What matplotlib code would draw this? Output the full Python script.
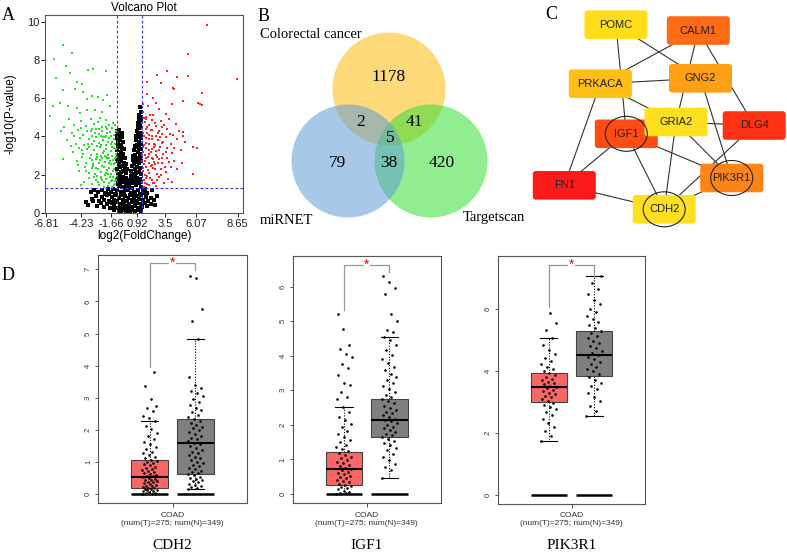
import matplotlib.pyplot as plt
from matplotlib.patches import Circle, Ellipse, FancyBboxPatch
import numpy as np

plt.rcParams['font.family'] = ['Liberation Sans', 'DejaVu Sans']
SERIF = ['Liberation Serif', 'DejaVu Serif']

# ---------------- data ----------------
# panel A: volcano points, pairs of (log2 fold change, -log10 p)
green_xy = np.array("""
-5.32 8.80 -4.60 8.36 -6.02 8.05 -5.06 7.66 -4.74 7.31 -3.27 7.49 -2.87 7.52 -1.86 7.43
-5.86 7.05 -4.20 6.87 -3.80 6.75 -4.34 6.48 -5.27 6.44 -3.67 6.30 -3.40 5.95 -3.00 6.09
-2.47 6.06 -2.07 5.92 -1.80 6.18 -6.12 5.57 -5.54 5.74 -4.87 5.57 -4.20 5.48 -3.94 5.22
-3.40 5.36 -2.74 5.39 -2.20 5.30 -1.54 5.57 -6.34 5.05
-4.40 4.60 -3.90 4.80 -3.50 4.55 -3.10 4.90 -2.80 4.65 -2.50 4.75 -2.20 4.50 -1.90 4.85
-1.60 4.60 -1.30 4.70 -4.80 4.90 -5.20 4.50 -2.95 4.40 -2.35 4.95 -1.75 4.40
-4.60 4.20 -4.10 4.35 -3.70 4.10 -3.35 4.30 -3.00 4.05 -2.70 4.40 -2.45 4.15 -2.15 4.30
-1.85 4.05 -1.55 4.25 -1.25 4.10 -5.50 4.30 -3.85 4.45 -2.30 4.00 -1.40 4.45
-5.00 3.80 -4.30 3.60 -3.95 3.90 -3.60 3.55 -3.25 3.85 -2.95 3.60 -2.65 3.95 -2.40 3.65
-2.10 3.80 -1.85 3.55 -1.60 3.90 -1.35 3.70 -1.15 3.60 -4.70 3.50 -2.80 3.75 -1.95 3.95
-4.50 3.20 -4.00 3.40 -3.70 3.10 -3.40 3.35 -3.10 3.05 -2.85 3.30 -2.60 3.10 -2.35 3.45
-2.10 3.15 -1.90 3.35 -1.70 3.05 -1.45 3.25 -1.20 3.40 -1.05 3.10 -3.20 3.45 -2.25 3.00
-4.20 2.70 -3.80 2.95 -3.45 2.60 -3.15 2.85 -2.90 2.55 -2.65 2.80 -2.40 2.60 -2.20 2.90
-1.95 2.65 -1.75 2.85 -1.50 2.55 -1.30 2.75 -1.10 2.95 -5.30 2.80 -2.55 2.95 -1.62 2.90
-4.00 2.20 -3.55 2.40 -3.25 2.10 -3.00 2.35 -2.75 2.05 -2.50 2.30 -2.30 2.15 -2.05 2.40
-1.85 2.10 -1.65 2.35 -1.45 2.05 -1.25 2.30 -1.08 2.15 -2.90 2.45 -1.95 2.00
-3.60 1.60 -3.20 1.85 -2.95 1.50 -2.70 1.75 -2.45 1.45 -2.25 1.90 -2.05 1.60 -1.85 1.80
-1.70 1.40 -1.50 1.65 -1.30 1.90 -1.15 1.50 -1.05 1.75 -2.60 1.95 -3.90 1.45 -1.40 1.35
-2.75 4.20 -2.55 3.50 -2.35 2.75 -2.15 1.70 -2.00 3.25 -1.90 4.50 -1.80 2.25 -1.70 3.70
-1.60 1.55 -1.55 2.70 -1.45 4.00 -1.35 3.00 -1.30 2.20 -1.20 3.85 -1.18 1.65 -1.12 2.60
-1.10 4.30 -1.05 3.35 -1.02 1.95 -2.65 2.35 -2.50 1.60 -2.40 4.40 -2.25 3.55 -2.20 2.45
-2.00 1.35 -1.95 3.00 -1.75 4.20 -1.65 2.60 -1.55 1.90 -1.40 3.45 -1.25 2.55 -1.20 1.45
-1.12 4.60 -3.00 2.75 -3.30 3.60 -3.50 2.20 -3.75 3.30 -4.10 2.50 -4.40 4.00 -2.85 1.90
-3.10 4.30 -1.15 2.85 -1.35 1.75 -1.50 3.60 -1.70 2.05 -1.90 2.95 -2.10 3.95 -2.30 1.85
""".split(), float).reshape(-1, 2)

red_xy = np.array("""
6.20 9.84 4.68 8.31 8.60 7.00 5.80 6.27 5.80 5.65 3.80 7.10 3.00 7.43 2.25 7.22
4.73 7.17 1.45 6.87 2.54 6.82 3.58 6.49 5.66 5.69 4.28 5.88 5.40 3.39 5.13 2.03
4.46 3.73 4.20 2.60 5.53 5.74 4.28 4.26 5.08 3.47 3.53 6.53
1.10 5.30 1.50 5.60 1.90 5.10 2.40 5.45 2.90 5.20 3.40 5.70 1.30 5.00 2.10 5.75
1.05 4.70 1.30 4.90 1.60 4.60 1.85 4.85 2.15 4.55 2.50 4.80 2.80 4.60 3.20 4.90
3.70 4.65 1.45 4.50
1.10 4.20 1.35 4.40 1.60 4.10 1.85 4.35 2.10 4.05 2.35 4.30 2.65 4.15 3.00 4.40
3.50 4.10 4.00 4.30 1.20 4.05
1.05 3.70 1.30 3.90 1.55 3.60 1.80 3.85 2.05 3.55 2.30 3.80 2.60 3.65 2.90 3.95
3.30 3.60 3.80 3.85 1.15 3.55 2.45 3.95
1.10 3.20 1.35 3.40 1.60 3.10 1.85 3.35 2.10 3.05 2.40 3.30 2.70 3.10 3.05 3.40
3.45 3.15 4.10 3.30 1.25 3.05 1.95 3.45
1.05 2.70 1.30 2.90 1.55 2.60 1.80 2.85 2.05 2.55 2.35 2.80 2.65 2.60 3.00 2.90
3.60 2.70 1.20 2.55 2.20 2.95
1.10 2.20 1.35 2.40 1.60 2.10 1.90 2.35 2.20 2.05 2.55 2.30 2.90 2.15 3.30 2.40
1.25 2.00 1.75 2.45
1.05 1.60 1.30 1.85 1.55 1.45 1.80 1.70 2.10 1.40 2.40 1.90 2.75 1.55 3.10 1.80
1.20 1.35 1.45 1.95 1.95 1.55
1.02 4.40 1.08 2.35 1.12 3.45 1.15 1.75 1.22 4.75 1.28 2.70 1.33 3.65 1.38 1.50
1.42 4.20 1.48 2.95 1.52 2.25 1.58 3.85 1.62 1.85 1.68 5.10 1.72 3.20 1.78 2.50
1.83 4.00 1.88 1.55 1.93 2.80 1.98 3.60 2.03 4.70 2.08 2.30 2.15 3.25 2.22 1.70
2.28 4.20 2.33 2.60 2.42 3.45 2.50 2.00 2.58 4.50 2.62 2.85 2.72 3.70 2.85 2.40
2.95 3.20 3.15 2.65 3.25 4.15 3.40 1.60 3.55 3.40 3.85 2.30 4.30 4.00 1.10 5.70
1.40 6.20 1.90 6.00 1.03 3.05 1.18 4.95 1.25 1.55 1.55 3.30 1.70 4.35 2.00 2.65
""".split(), float).reshape(-1, 2)

black_xy = np.array("""
-0.98 4.30 -0.90 4.15 -0.80 4.35 -0.70 4.05 -0.95 4.00 -0.62 4.20
-0.97 3.90 -0.88 3.60 -0.78 3.80 -0.68 3.55 -0.58 3.95 -0.50 3.70 -0.93 3.70 -0.72 3.85
-0.98 3.30 -0.88 3.05 -0.80 3.45 -0.70 3.20 -0.60 3.40 -0.50 3.10 -0.42 3.35 -0.92 3.50
-0.65 3.00 -0.97 2.80 -0.86 2.55 -0.77 2.95 -0.66 2.70 -0.56 2.90 -0.46 2.60 -0.36 2.85
-0.30 2.55 -0.90 2.70 -0.98 2.30 -0.88 2.05 -0.78 2.40 -0.68 2.15 -0.58 2.45 -0.48 2.20
-0.38 2.35 -0.28 2.10 -0.20 2.30 -0.72 2.00 -0.97 1.70 -0.87 1.95 -0.77 1.55 -0.67 1.80
-0.57 1.60 -0.47 1.90 -0.37 1.65 -0.27 1.85 -0.18 1.55 -0.10 1.75 -0.93 1.50
0.85 5.55 0.92 5.30 0.78 5.10 0.95 5.00 0.75 4.90 0.88 4.60 0.68 4.70 0.95 4.80
0.80 4.50 0.60 4.30 0.72 4.10 0.84 4.45 0.95 4.20 0.66 4.50 0.90 4.00
0.50 3.80 0.60 3.55 0.70 3.95 0.80 3.70 0.90 3.60 0.97 3.90 0.55 4.00
0.38 3.30 0.48 3.05 0.58 3.45 0.68 3.20 0.78 3.40 0.88 3.10 0.96 3.35 0.42 3.50
0.28 2.75 0.38 2.55 0.48 2.90 0.58 2.65 0.68 2.85 0.78 2.60 0.88 2.95 0.96 2.70 0.33 3.00
0.15 2.20 0.25 2.45 0.35 2.05 0.45 2.30 0.55 2.10 0.65 2.40 0.75 2.15 0.85 2.35 0.95 2.05
0.20 2.00 0.05 1.60 0.15 1.85 0.25 1.55 0.35 1.75 0.45 1.95 0.55 1.65 0.65 1.85
0.75 1.55 0.85 1.80 0.95 1.60 0.10 1.95
-2.20 1.20 -1.90 1.05 -1.70 1.25 -1.50 1.10 -1.30 1.28 -1.15 1.00 -1.00 1.20 -0.85 1.40
-0.70 1.10 -0.55 1.35 -0.40 1.05 -0.25 1.45 -0.12 1.20 0.00 1.40 0.10 1.05 0.25 1.30
0.40 1.10 0.55 1.45 0.70 1.20 0.85 1.00 0.95 1.35 1.10 1.15 1.25 1.25 1.45 1.05
-2.50 1.10 -1.60 1.00 1.20 1.02 -0.35 1.25
-3.00 0.75 -2.70 0.90 -2.45 0.65 -2.20 0.85 -2.00 0.70 -1.80 0.95 -1.60 0.65 -1.40 0.85
-1.25 0.70 -1.10 0.95 -0.95 0.62 -0.80 0.80 -0.65 0.95 -0.50 0.70 -0.35 0.90 -0.20 0.65
-0.08 0.80 0.05 0.95 0.20 0.70 0.35 0.85 0.50 0.62 0.65 0.90 0.80 0.75 0.95 0.95
1.10 0.70 1.30 0.85 1.50 0.65 1.75 0.80 1.95 0.70 -2.90 0.62 -1.95 0.98 0.45 0.98
-2.60 0.35 -2.30 0.50 -2.00 0.30 -1.75 0.45 -1.55 0.25 -1.35 0.50 -1.20 0.35 -1.05 0.55
-0.90 0.28 -0.75 0.45 -0.60 0.30 -0.45 0.52 -0.30 0.38 -0.15 0.25 0.00 0.45 0.15 0.30
0.30 0.55 0.45 0.35 0.60 0.50 0.75 0.28 0.90 0.45 1.05 0.30 1.25 0.50 1.45 0.35
1.70 0.45 -1.45 0.58 0.20 0.58
-1.20 0.15 -0.80 0.10 -0.50 0.18 -0.30 0.05 -0.10 0.12 0.05 0.02 0.20 0.15 0.45 0.08
0.70 0.17 0.95 0.12 -0.65 0.04
-3.30 0.40 -3.50 0.60 2.05 0.40 2.20 0.90 -3.10 1.10 1.80 1.20 -2.80 1.20
""".split(), float).reshape(-1, 2)

fc_cut = [-1, 1]
p_cut = 1.3
volcano_xticks = ['-6.81', '-4.23', '-1.66', '0.92', '3.5', '6.07', '8.65']

# panel B: venn
venn_sets = ['Colorectal cancer', 'miRNET', 'Targetscan']
venn_counts = {'C': 1178, 'CM': 2, 'CT': 41, 'CMT': 5, 'M': 79, 'MT': 38, 'T': 420}

# panel C: PPI network
genes = ['POMC', 'CALM1', 'PRKACA', 'GNG2', 'IGF1', 'GRIA2', 'DLG4', 'FN1', 'PIK3R1', 'CDH2']
gene_colors = ['#FFDD1C', '#FF6A14', '#FFBE14', '#FFA014', '#FF4B14',
               '#FFE01E', '#FF3214', '#FF1A1A', '#FF8416', '#FFE01E']
edges = [('POMC', 'IGF1'), ('POMC', 'GNG2'), ('CALM1', 'PRKACA'), ('CALM1', 'GRIA2'),
         ('CALM1', 'DLG4'), ('PRKACA', 'GNG2'), ('PRKACA', 'GRIA2'), ('PRKACA', 'FN1'),
         ('GNG2', 'PIK3R1'), ('GRIA2', 'DLG4'), ('GRIA2', 'CDH2'), ('GRIA2', 'PIK3R1'),
         ('IGF1', 'FN1'), ('IGF1', 'CDH2'), ('IGF1', 'PIK3R1'), ('FN1', 'CDH2'),
         ('CDH2', 'PIK3R1'), ('CDH2', 'DLG4')]
hub_genes = ['IGF1', 'PIK3R1', 'CDH2']

# panel D: GEPIA expression boxplots (tumor, normal)
box_genes = ['CDH2', 'IGF1', 'PIK3R1']
box_stats = {
    'CDH2': [(0.0, 0.2, 0.53, 1.07, 2.27), (0.16, 0.62, 1.59, 2.34, 4.83)],
    'IGF1': [(0.0, 0.25, 0.71, 1.22, 2.51), (0.45, 1.66, 2.14, 2.75, 4.55)],
    'PIK3R1': [(1.76, 3.02, 3.50, 3.93, 5.06), (2.55, 3.85, 4.53, 5.31, 7.06)],
}
box_points = {
    'CDH2': [
        [0.01, 0.02, 0.04, 0.05, 0.07, 0.09, 0.1, 0.12, 0.14, 0.16, 0.17, 0.19, 0.21, 0.24,
         0.26, 0.27, 0.3, 0.32, 0.34, 0.37, 0.39, 0.42, 0.44, 0.46, 0.49, 0.51, 0.53, 0.56,
         0.58, 0.61, 0.64, 0.66, 0.7, 0.73, 0.75, 0.79, 0.82, 0.86, 0.9, 0.93, 0.97, 1.01,
         1.05, 1.08, 1.12, 1.16, 1.21, 1.27, 1.33, 1.4, 1.47, 1.55, 1.62, 1.71, 1.8, 1.9,
         2.02, 2.13, 2.27, 2.38, 2.45, 2.58, 2.68, 2.75, 2.95, 3.37, 3.82],
        [0.16, 0.19, 0.23, 0.27, 0.3, 0.33, 0.37, 0.41, 0.44, 0.48, 0.52, 0.55, 0.59, 0.62,
         0.66, 0.7, 0.74, 0.79, 0.83, 0.88, 0.92, 0.97, 1.02, 1.07, 1.12, 1.17, 1.22, 1.28,
         1.33, 1.39, 1.45, 1.5, 1.55, 1.6, 1.65, 1.71, 1.76, 1.82, 1.88, 1.93, 1.99, 2.05,
         2.1, 2.16, 2.22, 2.28, 2.34, 2.4, 2.47, 2.55, 2.63, 2.7, 2.79, 2.88, 2.97, 3.05,
         3.14, 3.22, 3.31, 3.4, 3.65, 4.83, 5.4, 5.75, 6.72, 6.8]],
    'IGF1': [
        [0.01, 0.02, 0.04, 0.07, 0.1, 0.13, 0.17, 0.2, 0.23, 0.26, 0.3, 0.34, 0.37, 0.41,
         0.45, 0.49, 0.53, 0.57, 0.61, 0.65, 0.69, 0.72, 0.76, 0.8, 0.84, 0.89, 0.93, 0.98,
         1.03, 1.08, 1.13, 1.18, 1.23, 1.29, 1.35, 1.42, 1.5, 1.57, 1.65, 1.74, 1.83, 1.93,
         2.03, 2.13, 2.24, 2.36, 2.51, 2.75, 2.81, 2.94, 3.16, 3.22, 3.45, 3.64, 3.76, 3.98,
         4.05, 4.21, 4.31, 4.79, 5.22],
        [0.45, 0.68, 0.77, 0.88, 0.97, 1.07, 1.17, 1.26, 1.34, 1.41, 1.48, 1.54, 1.6, 1.65,
         1.7, 1.75, 1.8, 1.85, 1.9, 1.95, 2.0, 2.05, 2.1, 2.14, 2.18, 2.23, 2.28, 2.33, 2.38,
         2.44, 2.5, 2.56, 2.62, 2.68, 2.74, 2.81, 2.88, 2.96, 3.04, 3.12, 3.2, 3.29, 3.38,
         3.48, 3.58, 3.68, 3.79, 3.9, 4.02, 4.16, 4.3, 4.45, 4.55, 4.7, 4.76, 5.01, 5.21,
         5.8, 5.96, 6.15, 6.3]],
    'PIK3R1': [
        [1.76, 1.92, 2.06, 2.19, 2.33, 2.46, 2.58, 2.68, 2.77, 2.85, 2.92, 2.98, 3.04, 3.1,
         3.15, 3.2, 3.25, 3.3, 3.35, 3.4, 3.45, 3.49, 3.53, 3.57, 3.61, 3.66, 3.71, 3.76,
         3.81, 3.87, 3.93, 3.99, 4.06, 4.14, 4.23, 4.33, 4.44, 4.56, 4.7, 4.86, 5.06, 5.33,
         5.55, 5.89],
        [2.55, 2.72, 2.88, 3.03, 3.17, 3.3, 3.42, 3.53, 3.63, 3.73, 3.82, 3.91, 3.99, 4.07,
         4.15, 4.23, 4.31, 4.38, 4.45, 4.52, 4.59, 4.66, 4.74, 4.82, 4.9, 4.98, 5.06, 5.14,
         5.22, 5.3, 5.39, 5.48, 5.58, 5.68, 5.79, 5.9, 6.02, 6.16, 6.31, 6.48, 6.66, 6.85,
         7.06]],
}
# significance bracket heights: tumor end, top, normal end
brackets = {'CDH2': (3.97, 7.19, 6.98), 'IGF1': (5.32, 6.64, 6.43), 'PIK3R1': (6.07, 7.44, 7.06)}
box_yticks = {'CDH2': range(0, 8), 'IGF1': range(0, 7), 'PIK3R1': range(0, 8, 2)}
box_xlabel = 'COAD\n(num(T)=275; num(N)=349)'

# ---------------- drawing ----------------
W, H = 787, 552
fig = plt.figure(figsize=(W / 100, H / 100), dpi=100)


def px_axes(left, top, right, bottom):
    return fig.add_axes([left / W, 1 - bottom / H, (right - left) / W, (bottom - top) / H])


def panel_letter(x, y, s):
    fig.text(x / W, 1 - y / H, s, family=SERIF, fontsize=13, va='baseline')


# A: volcano
ax = px_axes(45, 15, 243, 213)
ax.scatter(black_xy[:, 0], black_xy[:, 1], s=5, c='black', marker='s', lw=0)
ax.scatter(green_xy[:, 0], green_xy[:, 1], s=4, c='#22E622', marker='s', lw=0)
ax.scatter(red_xy[:, 0], red_xy[:, 1], s=4, c='#FF2626', marker='s', lw=0)
for v in fc_cut:
    ax.axvline(v, color='#3333FF', lw=0.8, ls=(0, (2.5, 2)))
ax.axhline(p_cut, color='#3333FF', lw=0.8, ls=(0, (2.5, 2)))
ax.set_xlim(-6.74, 9.1)
ax.set_ylim(0, 10.35)
ax.set_xticks([-6.64, -3.87, -1.43, 0.65, 2.89, 5.34, 8.66], volcano_xticks)
ax.set_yticks(range(0, 11, 2))
ax.tick_params(labelsize=8, length=3, width=0.7, pad=1, colors='#222')
for sp in ax.spines.values():
    sp.set_linewidth(0.8)
    sp.set_color('#555')
ax.set_title('Volcano Plot', fontsize=8.5, pad=3)
ax.set_xlabel('log2(FoldChange)', fontsize=8.5, labelpad=1)
fig.text(10.5 / W, 1 - 114 / H, '-log10(P-value)', rotation=90, fontsize=8.5,
         ha='center', va='center')
panel_letter(2, 20, 'A')

# B: venn
axb = px_axes(250, 0, 520, 230)
axb.set_xlim(250, 520)
axb.set_ylim(230, 0)
axb.axis('off')
for (cx, cy), col in [((389, 89), '#FDBA0D'), ((431, 161), '#35E035'), ((348, 161), '#619BD5')]:
    axb.add_patch(Circle((cx, cy), 56.5, fc=col, ec='none', alpha=0.55))
count_pos = {'C': (389, 77), 'CM': (361, 122), 'CT': (414, 122), 'CMT': (390, 138),
             'M': (337, 163), 'MT': (389, 163), 'T': (442, 163)}
for k, n in venn_counts.items():
    axb.text(*count_pos[k], str(n), family=SERIF, fontsize=12.5, ha='center', va='center')
for s, (x, y) in zip(venn_sets, [(260, 38), (260, 224), (463, 221)]):
    axb.text(x, y, s, family=SERIF, fontsize=10.5, va='baseline')
panel_letter(258, 21, 'B')

# C: network
axc = px_axes(520, 0, 787, 230)
axc.set_xlim(520, 787)
axc.set_ylim(230, 0)
axc.axis('off')
node_pos = {'POMC': (616, 24.7), 'CALM1': (698.3, 30.5), 'PRKACA': (600.3, 83.8),
            'GNG2': (700.5, 78.3), 'IGF1': (626.3, 133.8), 'GRIA2': (676, 122),
            'DLG4': (754.2, 125.5), 'FN1': (564.3, 185.3), 'PIK3R1': (731.7, 178),
            'CDH2': (664.2, 209.3)}
for a, b in edges:
    (x1, y1), (x2, y2) = node_pos[a], node_pos[b]
    axc.plot([x1, x2], [y1, y2], color='#333', lw=0.8, zorder=1)
for i, (g, col) in enumerate(zip(genes, gene_colors)):
    x, y = node_pos[g]
    axc.add_patch(FancyBboxPatch((x - 31.5, y - 14.3), 63, 28.6,
                                 boxstyle='round,pad=0,rounding_size=3',
                                 fc=col, ec='none', zorder=2 + i * 0.1))
    axc.text(x, y, g, fontsize=8, ha='center', va='center', color='#222', zorder=4)
for g in hub_genes:
    axc.add_patch(Ellipse(node_pos[g], 42, 35, fc='none', ec='#222', lw=0.8, zorder=5))
panel_letter(545, 19, 'C')

# D: boxplots
box_rects = {'CDH2': (98.3, 255, 246.7, 503.3), 'IGF1': (292.7, 256, 440.7, 503.3),
             'PIK3R1': (497.7, 256, 645.3, 504)}
box_ylims = {'CDH2': (-0.28, 7.445), 'IGF1': (-0.27, 6.89), 'PIK3R1': (-0.29, 7.72)}
for g in box_genes:
    ax = px_axes(*box_rects[g])
    stats = [dict(whislo=s[0], q1=s[1], med=s[2], q3=s[3], whishi=s[4], fliers=[])
             for s in box_stats[g]]
    ax.bxp(stats, positions=[1, 2], widths=0.81, patch_artist=True, showfliers=False,
           boxprops=dict(lw=0.8, edgecolor='#444'),
           medianprops=dict(color='black', lw=1.5, zorder=5),
           whiskerprops=dict(color='black', lw=0.8, ls=(0, (1, 1.5))),
           capprops=dict(color='black', lw=0.8), capwidths=0.38)
    for patch, col in zip(ax.patches, ['#F96666', '#7F7F7F']):
        patch.set_facecolor(col)
    ax.hlines([0, 0], [0.595, 1.595], [1.405, 2.405], color='black', lw=1.8, zorder=4)
    for pos, vals in zip([1, 2], box_points[g]):
        vals = np.asarray(vals)
        jit = ((np.arange(len(vals)) * 0.618034) % 1 - 0.5) * 0.34
        ax.scatter(pos + jit, vals, s=3.5, c='black', lw=0, zorder=4)
    y1, ytop, y2 = brackets[g]
    ax.plot([1, 1, 2, 2], [y1, ytop, ytop, y2], color='#999', lw=0.9)
    ax.text(1.5, ytop, '*', color='red', fontsize=10, ha='center', va='center',
            bbox=dict(fc='white', ec='none', pad=0.3))
    ax.set_xlim(-0.13, 3.13)
    ax.set_ylim(*box_ylims[g])
    ax.set_yticks(list(box_yticks[g]))
    ax.set_xticks([1.5], [box_xlabel])
    ax.tick_params(axis='y', labelsize=5.5, labelrotation=90, length=2.5, width=0.6,
                   pad=2, colors='#333')
    ax.tick_params(axis='x', labelsize=6, length=3, width=0.6, pad=3, colors='#333')
    for lab in ax.get_yticklabels():
        lab.set_va('center')
    for sp in ax.spines.values():
        sp.set_linewidth(0.8)
        sp.set_color('#555')
    l, t, r, b = box_rects[g]
    fig.text((l + r) / 2 / W, 1 - 549 / H, g, family=SERIF, fontsize=11,
             ha='center', va='baseline')
panel_letter(2, 280, 'D')

fig.savefig('out.png', dpi=100)
